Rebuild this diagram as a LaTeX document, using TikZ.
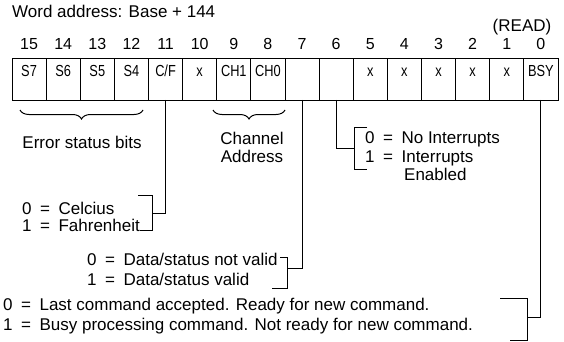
\documentclass[tikz,border=0pt]{standalone}
\usepackage{fontspec}
\setmainfont{Liberation Sans}
\newfontfamily\narrowfont[FakeStretch=0.8]{Liberation Sans}
\usetikzlibrary{positioning,decorations.pathreplacing}

\begin{document}
\begin{tikzpicture}[
x=1pt, y=-1pt,
font=\fontsize{17}{20}\selectfont,
cell/.style={draw, rectangle, line width=0.8pt, inner sep=0pt, outer sep=0pt, minimum width=34.125pt, minimum height=42pt, text height=7pt, text depth=11pt, font=\narrowfont\fontsize{16}{18}\selectfont},
bitnum/.style={label distance=8pt, inner sep=0pt, font=\fontsize{16}{18}\selectfont},
txt/.style={anchor=base west, inner sep=0pt},
wire/.style={line width=1pt},
curly/.style={decorate, decoration={brace, mirror, amplitude=9pt}, line width=1pt}
]
\useasboundingbox (0,0) rectangle (564,342);

\node[txt] (title) at (12,18) {Word address: Base + 144};
\node[anchor=base, inner sep=0pt] (mode) at (522,32) {(READ)};

% register cells
\node[cell, label={[bitnum]above:15}] (s7) at (29.06,79) {S7};
\node[cell, label={[bitnum]above:14}] (s6) [right=0pt of s7] {S6};
\node[cell, label={[bitnum]above:13}] (s5) [right=0pt of s6] {S5};
\node[cell, label={[bitnum]above:12}] (s4) [right=0pt of s5] {S4};
\node[cell, label={[bitnum]above:11}] (cf) [right=0pt of s4] {C/F};
\node[cell, label={[bitnum]above:10}] (x10) [right=0pt of cf] {x};
\node[cell, label={[bitnum]above:9}] (ch1) [right=0pt of x10] {CH1};
\node[cell, label={[bitnum]above:8}] (ch0) [right=0pt of ch1] {CH0};
\node[cell, label={[bitnum]above:7}] (valid) [right=0pt of ch0] {};
\node[cell, label={[bitnum]above:6}] (intr) [right=0pt of valid] {};
\node[cell, label={[bitnum]above:5}] (x5) [right=0pt of intr] {x};
\node[cell, label={[bitnum]above:4}] (x4) [right=0pt of x5] {x};
\node[cell, label={[bitnum]above:3}] (x3) [right=0pt of x4] {x};
\node[cell, label={[bitnum]above:2}] (x2) [right=0pt of x3] {x};
\node[cell, label={[bitnum]above:1}] (x1) [right=0pt of x2] {x};
\node[cell, label={[bitnum]above:0}] (bsy) [right=0pt of x1] {BSY};

% braces
\draw[curly] (20,110) -- (143,110);
\draw[curly] (213,110) -- (285,110);
\node[anchor=base, inner sep=0pt] (errlbl) at (82,148) {Error status bits};
\node[anchor=base, inner sep=0pt] (chname) at (252,144) {Channel};
\node[anchor=base, inner sep=0pt] (chaddr) at (252,162) {Address};

% interrupt enable
\node[txt] (int0) at (365,143) {0\enspace=\enspace No Interrupts};
\node[txt] (int1) at (365,162) {1\enspace=\enspace Interrupts};
\node[txt] (int2) at (404,180) {Enabled};
\draw[wire] (367,127) -- (354,127) -- (354,169) -- (367,169);
\coordinate (intjoin) at (354,148);
\draw[wire] (intr.south) |- (intjoin);

% temperature units
\node[txt] (cel0) at (22,214) {0\enspace=\enspace Celcius};
\node[txt] (cel1) at (22,231) {1\enspace=\enspace Fahrenheit};
\draw[wire] (138,195) -- (152,195) -- (152,230) -- (140,230);
\coordinate (cfjoin) at (152,213);
\draw[wire] (cf.south) |- (cfjoin);

% data valid
\node[txt] (dat0) at (87,265) {0\enspace=\enspace Data/status not valid};
\node[txt] (dat1) at (87,285) {1\enspace=\enspace Data/status valid};
\draw[wire] (280,257) -- (287,257) -- (287,288) -- (272,288);
\coordinate (datjoin) at (287,268);
\draw[wire] (valid.south) |- (datjoin);

% busy
\node[txt] (bsy0) at (3,310) {0\enspace=\enspace Last command accepted. Ready for new command.};
\node[txt] (bsy1) at (3,330) {1\enspace=\enspace Busy processing command. Not ready for new command.};
\draw[wire] (500,298) -- (527,298) -- (527,340) -- (510,340);
\coordinate (bsyjoin) at (527,317);
\draw[wire] (bsy.south) |- (bsyjoin);

\end{tikzpicture}
\end{document}
